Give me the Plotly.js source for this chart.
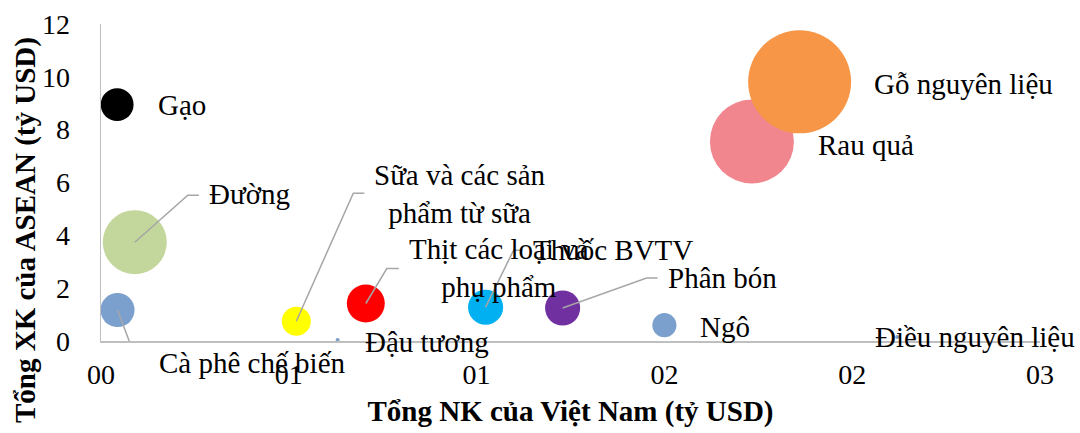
<!DOCTYPE html>
<html>
<head>
<meta charset="utf-8">
<script src="https://cdn.plot.ly/plotly-3.0.1.min.js"></script>
<style>html,body{margin:0;padding:0;background:#fff;}#chart{width:1080px;height:433px;}</style>
</head>
<body>
<div id="chart"></div>
<script>
// Data
const products = ["Gạo", "Đường", "Cà phê chế biến", "Sữa và các sản<br>phẩm từ sữa", "Đậu tương",
  "Thịt các loại và<br>phụ phẩm", "Thuốc BVTV", "Phân bón", "Ngô", "Điều nguyên liệu", "Rau quả", "Gỗ nguyên liệu"];
const importVN = [0.043, 0.09, 0.044, 0.52, 0.63, 0.705, 1.024, 1.229, 1.50, 2.12, 1.733, 1.86];   // x
const exportASEAN = [8.95, 3.74, 1.17, 0.75, 0.04, 1.42, 1.28, 1.25, 0.6, 0.15, 7.55, 9.81];     // y
const bubbleValue = [10.8, 41, 11.6, 8.4, 0.16, 14.4, 12.3, 12.3, 5.8, 0.16, 70.6, 106];         // bubble size
const xTickVals = [0, 0.5, 1, 1.5, 2, 2.5];
const xTickText = ["00", "01", "01", "02", "02", "03"];
const yTickVals = [0, 2, 4, 6, 8, 10, 12];

// Styles
const colors = ["#000000", "#c3d69b", "#7ba0cd", "#ffff00", "#7ba0cd", "#ff0000",
  "#00b0f0", "#7030a0", "#7ba0cd", "#7ba0cd", "#f1868e", "#f79646"];
// label placement: [dx, dy] in screen pixels from bubble centre to left-middle of the label
const labelOffset = [[40,0],[73,-48],[40,53],[77,-127],[26,2],[42,-35],[46,-57],[104,-30],[35,2],[-23,0],[65,3],[73,2]];
// leader lines: list of [dx,dy] screen-pixel vertices after the bubble centre, or null
const leaders = [null, [[53,-47],[64,-47]], [[20,53],[31,53]], [[57,-128],[68,-128]], null,
  [[21,-35],[33,-35]], [[28,-57],[37,-57]], [[84,-30],[95,-30]], null, null, null, null];

const FONT = "Liberation Serif, Times New Roman, serif";

const trace = {
  type: "scatter", mode: "markers",
  x: importVN, y: exportASEAN,
  text: products.map(s => s.replace("<br>", " ")),
  hoverinfo: "text+x+y",
  marker: { size: bubbleValue, sizemode: "area", sizeref: 0.02, color: colors, opacity: 1, line: { width: 0 } },
  showlegend: false, cliponaxis: false
};

const annotations = products.map((p, i) => ({
  x: importVN[i], y: exportASEAN[i], xref: "x", yref: "y",
  text: p, showarrow: false, xanchor: "left", yanchor: "middle", align: "center",
  xshift: labelOffset[i][0], yshift: -labelOffset[i][1], borderpad: 0,
  font: { family: FONT, size: 29, color: "#000" }
}));
annotations.push({
  xref: "paper", yref: "paper", x: -0.081, y: 0.35, xanchor: "center", yanchor: "middle",
  text: "<b>Tổng XK của ASEAN (tỷ USD)</b>", textangle: -90, showarrow: false,
  font: { family: FONT, size: 29, color: "#000" }
});

const shapes = [];
leaders.forEach((pts, i) => {
  if (!pts) return;
  let path = "M0,0";
  pts.forEach(p => { path += " L" + p[0] + "," + (-p[1]); });
  shapes.push({
    type: "path", xref: "x", yref: "y", xsizemode: "pixel", ysizemode: "pixel",
    xanchor: importVN[i], yanchor: exportASEAN[i], path: path,
    line: { color: "#a6a6a6", width: 1.5 }, layer: "above"
  });
});

const layout = {
  width: 1080, height: 433,
  margin: { l: 101, r: 40, t: 24, b: 92 },
  paper_bgcolor: "#fff", plot_bgcolor: "#fff",
  font: { family: FONT, size: 28, color: "#000" },
  xaxis: {
    range: [0, 2.5], tickvals: xTickVals, ticktext: xTickText,
    showgrid: false, zeroline: false, showline: true, linecolor: "#bfbfbf", linewidth: 1.5,
    ticks: "", ticklabelstandoff: 8,
    tickfont: { family: FONT, size: 28, color: "#000" },
    title: { text: "<b>Tổng NK của Việt Nam (tỷ USD)</b>", font: { family: FONT, size: 29, color: "#000" }, standoff: 11 }
  },
  yaxis: {
    range: [0, 12], tickvals: yTickVals,
    showgrid: false, zeroline: false, showline: true, linecolor: "#bfbfbf", linewidth: 1.5,
    ticks: "", ticklabelstandoff: 24,
    tickfont: { family: FONT, size: 28, color: "#000" }
  },
  annotations: annotations,
  shapes: shapes,
  showlegend: false
};

Plotly.newPlot("chart", [trace], layout, { displayModeBar: false, staticPlot: true });
</script>
</body>
</html>
